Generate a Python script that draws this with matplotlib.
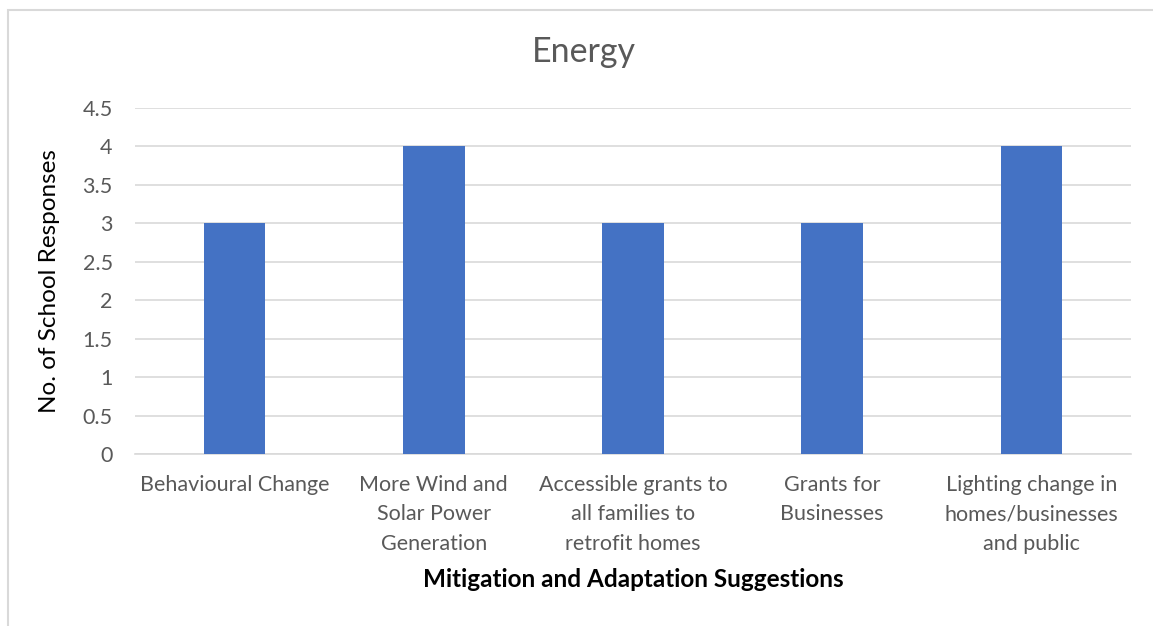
import matplotlib.pyplot as plt
from matplotlib.patches import Rectangle

# Chart data
categories = [
    "Behavioural Change",
    "More Wind and\nSolar Power\nGeneration",
    "Accessible grants to\nall families to\nretrofit homes",
    "Grants for\nBusinesses",
    "Lighting change in\nhomes/businesses\nand public",
]
responses = [3, 4, 3, 3, 4]
y_ticks = [0, 0.5, 1, 1.5, 2, 2.5, 3, 3.5, 4, 4.5]
y_tick_labels = ["0", "0.5", "1", "1.5", "2", "2.5", "3", "3.5", "4", "4.5"]

plt.rcParams['font.family'] = ['Lato', 'DejaVu Sans']
text_gray = '#595959'

fig = plt.figure(figsize=(11.53, 6.26), dpi=100)
ax = fig.add_axes([0.117, 0.2748, 0.864, 0.5527])

# light frame around the whole chart, like the Excel chart area
fig.patches.append(Rectangle((8 / 1153, -0.05), 1.1, 1 - 10 / 626 + 0.05,
                             transform=fig.transFigure, fill=False,
                             edgecolor='#d9d9d9', linewidth=1.5))

x = range(len(categories))
ax.bar(x, responses, width=0.31, color='#4472C4', zorder=3)

ax.set_xlim(-0.5, len(categories) - 0.5)
ax.set_ylim(0, 4.5)
ax.set_yticks(y_ticks)
ax.set_yticklabels(y_tick_labels)
ax.set_xticks(list(x))
ax.set_xticklabels(categories, linespacing=1.6, va='top')

ax.grid(axis='y', color='#d9d9d9', linewidth=1.2, zorder=0)
for side in ['top', 'right', 'left']:
    ax.spines[side].set_visible(False)
ax.spines['bottom'].set_color('#d9d9d9')
ax.spines['bottom'].set_linewidth(1.2)
ax.tick_params(axis='both', length=0, labelsize=15.5, labelcolor=text_gray)
ax.tick_params(axis='x', pad=15)
ax.tick_params(axis='y', pad=16)

fig.text(584 / 1153, 1 - 52 / 626, "Energy", fontsize=24.5, color=text_gray,
         ha='center', va='center')
ax.set_ylabel("No. of School Responses", fontsize=17.5, color='black')
ax.yaxis.set_label_coords(-0.0753, 0.5)
ax.set_xlabel("Mitigation and Adaptation Suggestions", fontsize=17.5,
              fontweight='bold', color='black', va='center')
ax.xaxis.set_label_coords(0.5, -0.364)

fig.savefig('out.png', dpi=100)
